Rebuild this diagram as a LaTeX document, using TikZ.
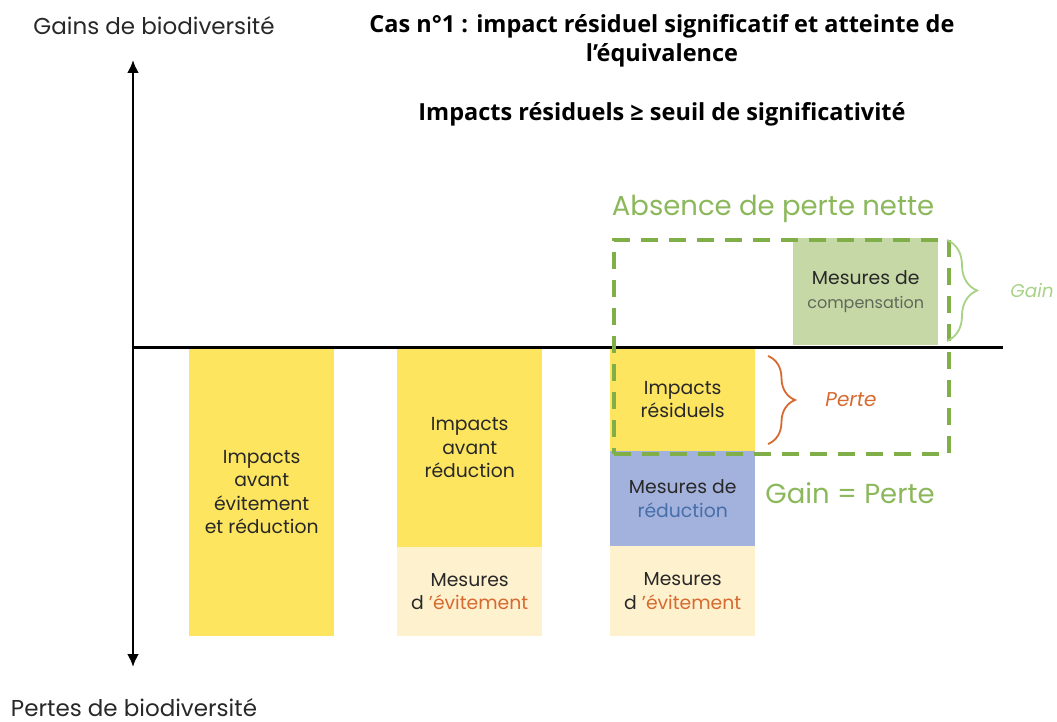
\documentclass[tikz,border=0pt]{standalone}
\usepackage{fontspec}
\setmainfont{Poppins}
\newfontfamily\titlefont{Open Sans}
\usetikzlibrary{arrows.meta,decorations.pathreplacing}

\definecolor{jaune}{RGB}{253,229,95}
\definecolor{creme}{RGB}{254,241,206}
\definecolor{bleu}{RGB}{163,178,220}
\definecolor{vertcomp}{RGB}{198,216,166}
\definecolor{vertdash}{RGB}{128,174,72}
\definecolor{verttxt}{RGB}{140,184,92}
\definecolor{vertclair}{RGB}{168,210,134}
\definecolor{orange}{RGB}{214,106,48}
\definecolor{bleutxt}{RGB}{70,110,170}
\definecolor{grisvert}{RGB}{95,105,90}
\definecolor{texte}{RGB}{40,40,40}

\tikzset{
  bar/.style={rectangle, draw=none, inner sep=0pt, anchor=north west,
    align=center, text=texte, font=\fontsize{18.8}{23.5}\selectfont},
  axis/.style={line width=2.5pt, black},
  dashbox/.style={draw=vertdash, line width=3.5pt, dash pattern=on 17pt off 11pt,
    rectangle, inner sep=0pt, anchor=north west},
  brace/.style={decorate, line width=1.8pt},
  label/.style={font=\fontsize{23}{26}\selectfont, text=texte, inner sep=0pt},
  titre/.style={font=\titlefont\bfseries\fontsize{23.5}{29}\selectfont, text=black, align=center},
  vertlab/.style={font=\fontsize{27.5}{30}\selectfont, text=verttxt}
}

\begin{document}
\begin{tikzpicture}[x=1pt,y=-1pt]
\useasboundingbox (0,0) rectangle (1057,722);

% bars
\node[bar, fill=jaune, minimum width=145pt, minimum height=288pt] (b1) at (189,348)
  {Impacts\\avant\\évitement\\et réduction};
\node[bar, fill=jaune, minimum width=145pt, minimum height=199pt] (b2) at (397,348)
  {Impacts\\avant\\réduction};
\node[bar, fill=creme, minimum width=145pt, minimum height=89pt] (b2e) at (397,547)
  {Mesures\\d \textcolor{orange}{'évitement}};
\node[bar, fill=jaune, minimum width=145pt, minimum height=103pt] (b3) at (610,348)
  {Impacts\\résiduels};
\node[bar, fill=bleu, minimum width=145pt, minimum height=95pt] (b3r) at (610,451)
  {Mesures de\\\textcolor{bleutxt}{réduction}};
\node[bar, fill=creme, minimum width=145pt, minimum height=90pt] (b3e) at (610,546)
  {Mesures\\d \textcolor{orange}{'évitement}};
\node[bar, fill=vertcomp, minimum width=145pt, minimum height=107pt] (comp) at (793,238)
  {Mesures de\\\textcolor{grisvert}{\fontsize{16}{20}\selectfont compensation}};

% axes
\coordinate (ytop) at (133,60);
\coordinate (ybot) at (133,667);
\coordinate (xo) at (133,347);
\coordinate (xend) at (1003,347);
\draw[axis, {Latex[length=13pt,width=12pt]}-{Latex[length=13pt,width=12pt]}] (ybot) -- (ytop);
\draw[line width=3pt, black] (xo) -- (xend);

% no net loss frame
\node[dashbox, minimum width=335pt, minimum height=214pt] (apn) at (612,238) {};
\node[vertlab] (apnlab) at (773,209) {Absence de perte nette};
\node[vertlab] (egal) at (850,493) {Gain = Perte};

% braces
\coordinate (gtop) at (947,240);
\coordinate (gbot) at (947,341);
\draw[brace, vertclair, decoration={brace, amplitude=30pt, aspect=0.5}] (gtop) -- (gbot);
\node[font=\itshape\fontsize{18.5}{20}\selectfont, text=vertclair] (gain) at (1032,291) {Gain};

\coordinate (ptop) at (768,356);
\coordinate (pbot) at (768,444);
\draw[brace, orange, decoration={brace, amplitude=27pt, aspect=0.5}] (ptop) -- (pbot);
\node[font=\itshape\fontsize{20}{22}\selectfont, text=orange] (perte) at (851,400) {Perte};

% titles
\node[label, anchor=base] (gains) at (154,35) {Gains de biodiversité};
\node[label, anchor=base] (pertes) at (134,716) {Pertes de biodiversité};
\node[titre] (t1) at (662,41) {Cas n°1 : impact résiduel significatif et atteinte de\\l’équivalence};
\node[titre] (t2) at (662,114) {Impacts résiduels ≥ seuil de significativité};

\end{tikzpicture}
\end{document}
